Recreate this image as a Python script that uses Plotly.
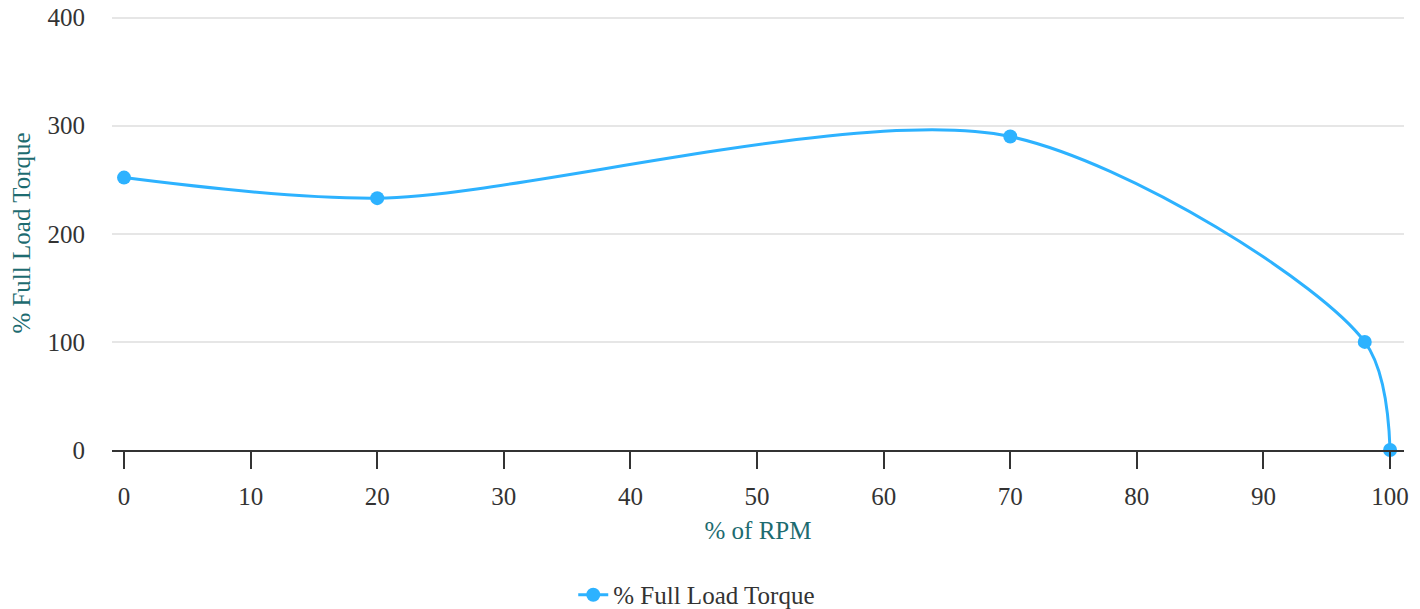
import plotly.graph_objects as go

rpm = [0, 20, 70, 98, 100]
torque = [252, 233, 290, 100, 0]
series_name = "% Full Load Torque"
x_ticks = [0, 10, 20, 30, 40, 50, 60, 70, 80, 90, 100]
y_ticks = [0, 100, 200, 300, 400]

FONT = "Times New Roman, Liberation Serif, serif"
TITLE_COLOR = "#1d6b70"
fig = go.Figure()
fig.add_trace(go.Scatter(
    x=rpm, y=torque, name=series_name, mode="lines+markers",
    line=dict(color="#2db2ff", width=3, shape="spline", smoothing=0.85),
    marker=dict(color="#2db2ff", size=14),
    cliponaxis=False,
))
fig.update_layout(
    width=1420, height=609,
    margin=dict(l=112, r=16, t=16, b=159, autoexpand=False),
    paper_bgcolor="white", plot_bgcolor="white",
    font=dict(family=FONT, size=25, color="#333333"),
    showlegend=True,
    legend=dict(orientation="h", x=0.357, xanchor="left",
                y=-0.334, yanchor="middle",
                font=dict(family=FONT, size=25, color="#333333")),
    xaxis=dict(
        range=[-0.95, 101.1], tickvals=x_ticks, showgrid=False, zeroline=False,
        showline=True, linecolor="#333333", linewidth=1.5, automargin=False,
        ticks="outside", ticklen=17, tickwidth=1.5, tickcolor="#333333",
        ticklabelstandoff=6,
        title=dict(text="% of RPM", font=dict(family=FONT, size=25, color=TITLE_COLOR), standoff=13),
    ),
    yaxis=dict(
        range=[0, 401.5], tickvals=y_ticks, showgrid=True, gridcolor="#e6e6e6", gridwidth=1.5,
        zeroline=False, showline=False, ticks="", ticklabelstandoff=26, automargin=False,
        title=dict(text="% Full Load Torque", font=dict(family=FONT, size=25, color=TITLE_COLOR), standoff=9),
    ),
)
fig.write_html("out.html", config={"displayModeBar": False},
               post_script="document.body.style.margin='0px';")
